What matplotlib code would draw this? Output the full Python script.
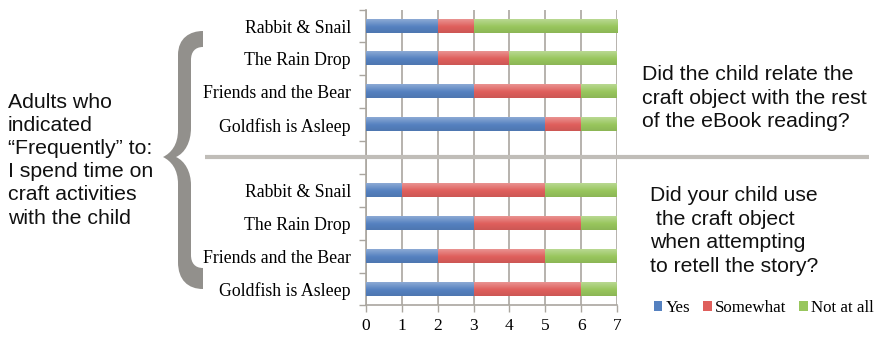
import matplotlib
matplotlib.use("Agg")
import matplotlib.pyplot as plt
import numpy as np
from matplotlib.path import Path
from matplotlib.patches import PathPatch
from matplotlib.colors import to_rgb

# Data
stories = ["Rabbit & Snail", "The Rain Drop", "Friends and the Bear", "Goldfish is Asleep"]
responses = ["Yes", "Somewhat", "Not at all"]
relate_yes = [2, 2, 3, 5]
relate_somewhat = [1, 2, 3, 1]
relate_not = [4, 3, 1, 1]
retell_yes = [1, 3, 2, 3]
retell_somewhat = [4, 3, 3, 3]
retell_not = [2, 1, 2, 1]
x_ticks = [0, 1, 2, 3, 4, 5, 6, 7]

colors = ["#5581c0", "#df5f5c", "#98c65d"]
grid_col = "#aaa69f"
serif = ["Liberation Serif", "DejaVu Serif"]
sans = ["Liberation Sans", "DejaVu Sans"]

W, H, DPI = 885, 337, 100
fig = plt.figure(figsize=(W / DPI, H / DPI), dpi=DPI)
fig.patch.set_facecolor("white")

def fx(px):
    return px / W

def fy(py):
    return 1 - py / H

ax_l, ax_r, ax_t, ax_b = 366, 617, 9.6, 305.4
ax = fig.add_axes([fx(ax_l), fy(ax_b), fx(ax_r - ax_l), (ax_b - ax_t) / H])

def shade(c, n=24):
    """Vertical gradient for a bar: lighter at the top, base tone lower down."""
    base = np.array(to_rgb(c))
    light = base + (1 - base) * 0.32
    dark = base * 0.92
    t = np.linspace(0, 1, n)[:, None]
    top = light * (1 - np.clip(t / 0.55, 0, 1)) + base * np.clip(t / 0.55, 0, 1)
    bottom = base * (1 - np.clip((t - 0.55) / 0.45, 0, 1)) + dark * np.clip((t - 0.55) / 0.45, 0, 1)
    g = np.where(t < 0.55, top, bottom)
    return g[:, None, :]

# two groups of stories share one axis, separated by an empty row
pos_top = np.arange(4)
pos_bot = np.arange(4) + 5
series = [
    (pos_top, [relate_yes, relate_somewhat, relate_not]),
    (pos_bot, [retell_yes, retell_somewhat, retell_not]),
]
bar_h = 0.4
handles = []
for k, (pos, vals) in enumerate(series):
    left = np.zeros(4)
    for i, v in enumerate(vals):
        b = ax.barh(pos, v, left=left, height=bar_h, color=colors[i],
                    edgecolor="none", zorder=3, label=responses[i])
        if k == 0:
            handles.append(b)
        for p in b.patches:
            x0, y0 = p.get_x(), p.get_y()
            w, h = p.get_width(), p.get_height()
            ax.imshow(shade(colors[i]), extent=(x0, x0 + w, y0 + h, y0),
                      aspect="auto", interpolation="bilinear", zorder=4)
        left = left + np.array(v)

ax.set_xlim(0, 7)
ax.set_ylim(8.5, -0.5)
ax.set_xticks(x_ticks)
ax.set_xticklabels([str(t) for t in x_ticks], fontfamily=serif, fontsize=12.5)
ax.tick_params(axis="x", length=5, width=1, color=grid_col, pad=4, direction="out")

centers = list(pos_top) + list(pos_bot)
ax.set_yticks(centers)
ax.set_yticklabels(stories + stories, fontfamily=serif, fontsize=12.8)
ax.set_yticks(np.arange(-0.5, 9.0, 1.0), minor=True)
ax.tick_params(axis="y", which="major", length=0, pad=10.8)
ax.tick_params(axis="y", which="minor", length=5, width=1, color=grid_col, direction="out")

ax.grid(axis="x", color=grid_col, linewidth=1.2, zorder=0)
ax.set_axisbelow(True)
for s in ["top", "right"]:
    ax.spines[s].set_visible(False)
for s in ["left", "bottom"]:
    ax.spines[s].set_color(grid_col)
    ax.spines[s].set_linewidth(1.2)

# overlay in pixel coordinates for annotations
ov = fig.add_axes([0, 0, 1, 1], zorder=5)
ov.set_xlim(0, W)
ov.set_ylim(H, 0)
ov.axis("off")
ov.patch.set_alpha(0)

# separator between the two questions
ov.plot([205, 869], [157, 157], color="#c0bdb8", linewidth=3.0, solid_capstyle="butt")

# curly brace
C, L = Path.CURVE4, Path.LINETO
verts = [
    (203, 31),
    (190, 31), (178, 38), (178, 55),
    (178, 130),
    (178, 145), (171, 153), (163, 157),
    (171, 161), (178, 169), (178, 184),
    (178, 262),
    (178, 280), (188, 289), (203, 289),
    (203, 268),
    (195, 268), (191, 263), (191, 255),
    (191, 185),
    (191, 172), (185, 161), (176, 157),
    (185, 153), (191, 142), (191, 128),
    (191, 60),
    (191, 52), (195, 47), (203, 47),
    (203, 31),
]
codes = [Path.MOVETO, C, C, C, L, C, C, C, C, C, C, L, C, C, C, L,
         C, C, C, L, C, C, C, C, C, C, L, C, C, C, Path.CLOSEPOLY]
ov.add_patch(PathPatch(Path(verts, codes), facecolor="#92908c", edgecolor="none"))

ov.text(8, 160, "Adults who\nindicated\n\u201cFrequently\u201d to:\nI spend time on\ncraft activities\nwith the child",
        fontfamily=sans, fontsize=15.3, va="center", ha="left", linespacing=1.28,
        color="#111111")
ov.text(642, 98, "Did the child relate the\ncraft object with the rest\nof the eBook reading?",
        fontfamily=sans, fontsize=15.3, va="center", ha="left", linespacing=1.3, color="#111111")
ov.text(650, 231, "Did your child use\n the craft object\nwhen attempting\nto retell the story?",
        fontfamily=sans, fontsize=15.2, va="center", ha="left", linespacing=1.3, color="#111111")

fig.legend(handles=handles, labels=responses, loc="center left",
           bbox_to_anchor=(fx(654), fy(308)), ncol=3, frameon=False,
           prop={"family": serif, "size": 12.2}, handlelength=0.5, handleheight=0.5,
           handletextpad=0.2, columnspacing=0.75, borderpad=0, borderaxespad=0)

fig.savefig("out.png", dpi=DPI, facecolor="white")
